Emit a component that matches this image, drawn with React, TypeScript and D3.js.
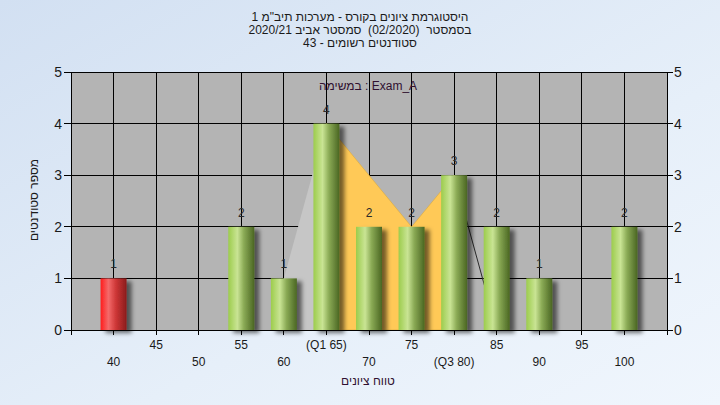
import React from "react";
import * as d3 from "d3";

const titleLines = [
  "היסטוגרמת ציונים בקורס - מערכות תיב\"מ 1",
  "בסמסטר\u00a0 (02/2020)\u00a0 סמסטר אביב 2020/21",
  "סטודנטים רשומים - 43",
];
const innerLabel = "במשימה : Exam_A";
const yTitle = "מספר סטודנטים";
const xTitle = "טווח ציונים";

const grades = [40, 55, 60, 65, 70, 75, 80, 85, 90, 100];
const counts = [1, 2, 1, 4, 2, 2, 3, 2, 1, 2];
const barKinds = ["fail", "pass", "pass", "pass", "pass", "pass", "pass", "pass", "pass", "pass"];

const xTickValues = [40, 45, 50, 55, 60, 65, 70, 75, 80, 85, 90, 95, 100];
const xTickLabels = ["40", "45", "50", "55", "60", "(Q1 65)", "70", "75", "(Q3 80)", "85", "90", "95", "100"];
const yTickValues = [0, 1, 2, 3, 4, 5];

const quartileGrades = [65, 75, 80];
const quartileValues = [4, 2, 3];
const spreadLeftGrades = [60, 65];
const spreadLeftValues = [1, 4];
const spreadRightGrades = [80, 85];
const spreadRightValues = [3, 0];

const W = 720;
const H = 405;
const M = { left: 71, right: 667, top: 72, bottom: 330 };
const FONT = "'Liberation Sans', Arial, sans-serif";

export default function App() {
  const x = d3.scaleLinear().domain([35, 105]).range([M.left, M.right]);
  const y = d3.scaleLinear().domain([0, 5]).range([M.bottom, M.top]);
  const barW = 26;

  const area = d3
    .area<[number, number]>()
    .x((d) => x(d[0]))
    .y0(y(0))
    .y1((d) => y(d[1]));
  const line = d3
    .line<[number, number]>()
    .x((d) => x(d[0]))
    .y((d) => y(d[1]));

  const quartilePts = quartileGrades.map((g, i) => [g, quartileValues[i]] as [number, number]);
  const leftPts = spreadLeftGrades.map((g, i) => [g, spreadLeftValues[i]] as [number, number]);
  const rightPts = spreadRightGrades.map((g, i) => [g, spreadRightValues[i]] as [number, number]);

  return (
    <svg
      width={W}
      height={H}
      style={{ position: "fixed", left: 0, top: 0, fontFamily: FONT }}
    >
      <defs>
        <linearGradient id="bg" x1="0" y1="0" x2="1" y2="1">
          <stop offset="0" stopColor="#d2e0f2" />
          <stop offset="0.6" stopColor="#e6eff9" />
          <stop offset="1" stopColor="#f0f6fd" />
        </linearGradient>
        <linearGradient id="gPass" x1="0" y1="0" x2="1" y2="0">
          <stop offset="0" stopColor="#9ccc4c" />
          <stop offset="0.35" stopColor="#c9e494" />
          <stop offset="0.6" stopColor="#8aaa55" />
          <stop offset="1" stopColor="#4a6622" />
        </linearGradient>
        <linearGradient id="gFail" x1="0" y1="0" x2="1" y2="0">
          <stop offset="0" stopColor="#ff1c1c" />
          <stop offset="0.3" stopColor="#f46a6a" />
          <stop offset="0.6" stopColor="#cc3535" />
          <stop offset="1" stopColor="#8a1c1c" />
        </linearGradient>
        <filter id="shadow" x="-30%" y="-10%" width="180%" height="130%">
          <feDropShadow dx="5" dy="3" stdDeviation="2" floodColor="#000" floodOpacity="0.55" />
        </filter>
      </defs>
      <rect x={0} y={0} width={W} height={H} fill="url(#bg)" />

      {/* plot background */}
      <rect x={M.left} y={M.top} width={M.right - M.left} height={M.bottom - M.top} fill="#b4b4b4" />

      {/* grid */}
      {yTickValues.map((v) => (
        <line key={"gy" + v} x1={M.left} x2={M.right} y1={y(v)} y2={y(v)} stroke="#000" strokeWidth={1} shapeRendering="crispEdges" />
      ))}
      {xTickValues.map((v) => (
        <line key={"gx" + v} x1={x(v)} x2={x(v)} y1={M.top} y2={M.bottom} stroke="#000" strokeWidth={1} shapeRendering="crispEdges" />
      ))}

      {/* spread areas */}
      <path d={area(leftPts) || ""} fill="#c6c6c6" />
      <path d={line(rightPts) || ""} fill="none" stroke="#2a2a2a" strokeWidth={1} />
      <path d={area(quartilePts) || ""} fill="#ffc957" stroke="#d9a940" strokeWidth={0.6} />

      {/* bars */}
      {grades.map((g, i) => (
        <rect
          key={"b" + g}
          x={x(g) - barW / 2}
          y={y(counts[i])}
          width={barW}
          height={y(0) - y(counts[i])}
          fill={barKinds[i] === "fail" ? "url(#gFail)" : "url(#gPass)"}
          filter="url(#shadow)"
        />
      ))}

      {/* value labels */}
      {grades.map((g, i) => (
        <text key={"v" + g} x={x(g)} y={y(counts[i]) - 10} textAnchor="middle" fontSize={12} fill="#2a2a2a">
          {counts[i]}
        </text>
      ))}

      {/* axes */}
      <line x1={M.left} x2={M.left} y1={M.top} y2={M.bottom + 5} stroke="#000" shapeRendering="crispEdges" />
      <line x1={M.right} x2={M.right} y1={M.top} y2={M.bottom + 5} stroke="#000" shapeRendering="crispEdges" />
      <line x1={M.left} x2={M.right} y1={M.bottom} y2={M.bottom} stroke="#000" shapeRendering="crispEdges" />
      {yTickValues.map((v) => (
        <g key={"ty" + v}>
          <line x1={M.left - 7} x2={M.left} y1={y(v)} y2={y(v)} stroke="#000" shapeRendering="crispEdges" />
          <line x1={M.right} x2={M.right + 6} y1={y(v)} y2={y(v)} stroke="#000" shapeRendering="crispEdges" />
          <text x={M.left - 9} y={y(v) + 5} textAnchor="end" fontSize={14} fill="#1a1a1a">
            {v}
          </text>
          <text x={M.right + 7} y={y(v) + 5} textAnchor="start" fontSize={14} fill="#1a1a1a">
            {v}
          </text>
        </g>
      ))}
      {xTickValues.map((v, i) => (
        <g key={"tx" + v}>
          <line x1={x(v)} x2={x(v)} y1={M.bottom} y2={M.bottom + 5} stroke="#000" shapeRendering="crispEdges" />
          <text x={x(v)} y={i % 2 === 0 ? 366 : 349} textAnchor="middle" fontSize={12} fill="#1a1a1a">
            {xTickLabels[i]}
          </text>
        </g>
      ))}

      {/* titles */}
      {titleLines.map((t, i) => (
        <text
          key={"t" + i}
          x={360}
          y={21 + i * 13}
          textAnchor="middle"
          fontSize={12}
          fill="#1a1a1a"
          style={{ direction: "rtl", unicodeBidi: "embed" }}
        >
          {t}
        </text>
      ))}
      <text x={368} y={90} textAnchor="middle" fontSize={12} fill="#301030">
        {innerLabel}
      </text>
      <text
        transform={`translate(38,200) rotate(-90)`}
        textAnchor="middle"
        fontSize={12}
        fill="#1a1a1a"
        style={{ direction: "rtl", unicodeBidi: "embed" }}
      >
        {yTitle}
      </text>
      <text x={368} y={385} textAnchor="middle" fontSize={12} fill="#301030" style={{ direction: "rtl", unicodeBidi: "embed" }}>
        {xTitle}
      </text>
    </svg>
  );
}
